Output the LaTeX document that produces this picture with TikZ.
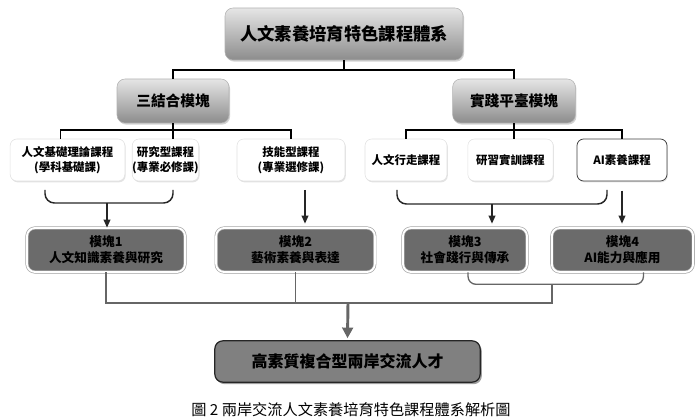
\documentclass[tikz,border=0pt]{standalone}
\usepackage{fontspec}
\setmainfont{Noto Sans CJK TC}
\usetikzlibrary{arrows.meta,shadows,calc}

\tikzset{every picture/.style={line width=0.75pt}}
\tikzset{
  headbox/.style={rounded corners=6pt,top color=black!10,bottom color=black!45,draw=black!30,line width=0.4pt,
    drop shadow={shadow xshift=0.8pt,shadow yshift=-1.2pt,fill=black!35},inner sep=0pt,align=center,font=\bfseries},
  coursebox/.style={rounded corners=5pt,fill=white,draw=black!12,line width=0.4pt,
    drop shadow={shadow xshift=0.6pt,shadow yshift=-1pt,fill=black!22},minimum height=31.5pt,inner sep=0pt,align=center,
    font=\fontsize{8.6}{11}\selectfont\bfseries},
  aibox/.style={coursebox,draw=black!75,line width=0.6pt},
  modbox/.style={rounded corners=6pt,fill=black!58,draw=black!35,double=white,double distance=1.4pt,line width=0.5pt,
    drop shadow={shadow xshift=0.6pt,shadow yshift=-1pt,fill=black!30},minimum height=33pt,inner sep=0pt,align=center,
    font=\fontsize{9.5}{12}\selectfont\bfseries},
  talentbox/.style={rounded corners=6pt,fill=black!50,draw=black!85,line width=0.9pt,
    drop shadow={shadow xshift=1.2pt,shadow yshift=-1.5pt,fill=black!75},inner sep=0pt,align=center,
    font=\fontsize{12}{14}\selectfont\bfseries},
  tree/.style={draw=black,line width=1.4pt},
  brace/.style={draw=black!85,line width=1.1pt,rounded corners=7pt},
  arr/.style={draw=black!85,line width=1.1pt,-{Triangle[length=6pt,width=5pt]}},
  flow/.style={draw=black!60,line width=1pt},
  bigarr/.style={draw=black!60,line width=2.2pt,-{Triangle[length=8pt,width=8pt]}}
}

\begin{document}
\begin{tikzpicture}[x=0.75pt,y=0.75pt,yscale=-1,xscale=1]
\useasboundingbox (0,0) rectangle (700,420);

%Shape: top box
\node (top) at (344,34) [headbox,minimum width=178.5pt,minimum height=39pt,font=\fontsize{13}{15}\selectfont\bfseries] {人文素養培育特色課程體系};
%Shape: two module groups
\node (sanjie) at (173,101) [headbox,minimum width=84pt,minimum height=33pt,font=\fontsize{11}{13}\selectfont\bfseries] {三結合模塊};
\node (shijian) at (514,101) [headbox,minimum width=92pt,minimum height=33pt,font=\fontsize{11}{13}\selectfont\bfseries] {實踐平臺模塊};

%Shape: course boxes
\node (c1) at (67.5,160) [coursebox,minimum width=86pt] {人文基礎理論課程\\(學科基礎課)};
\node (c2) at (165.5,160) [coursebox,minimum width=49pt] {研究型課程\\(專業必修課)};
\node (c3) at (291,160) [coursebox,minimum width=81pt] {技能型課程\\(專業選修課)};
\node (c4) at (406,160) [coursebox,minimum width=61.5pt] {人文行走課程};
\node (c5) at (510.5,160) [coursebox,minimum width=64pt] {研習實訓課程};
\node (c6) at (622,160) [aibox,minimum width=67.5pt] {AI素養課程};

%Shape: module boxes
\node (m1) at (106,250) [modbox,minimum width=118.5pt] {模塊1\\人文知識素養與研究};
\node (m2) at (295.5,250) [modbox,minimum width=119pt] {模塊2\\藝術素養與表達};
\node (m3) at (465,250) [modbox,minimum width=93pt] {模塊3\\社會踐行與傳承};
\node (m4) at (622.5,250) [modbox,minimum width=106pt] {模塊4\\AI能力與應用};

%Shape: result box
\node (talent) at (347.5,361.5) [talentbox,minimum width=199pt,minimum height=31pt] {高素質複合型兩岸交流人才};

% Text Node
\node (caption) at (351,410) [font=\fontsize{11.4}{13}\selectfont] {圖 2 兩岸交流人文素養培育特色課程體系解析圖};

%Straight Lines: tree on top
\draw[tree] (top.south) -- ++(0,10) -| (sanjie.north);
\draw[tree] (top.south) ++(0,10) -| (shijian.north);
\draw[tree] ($(c1.north)+(-7,0)$) -- ++(0,-9) -| (c3.north);
\draw[tree] (sanjie.south) -- (sanjie.south |- c2.north);
\draw[tree] (c4.north) -- ++(0,-9) -| (c6.north);
\draw[tree] (shijian.south) -- (shijian.south |- c5.north);

%Brackets and arrows to modules
\coordinate (b1l) at (45,190);
\coordinate (b1r) at (173,190);
\coordinate (b1m) at (107,203);
\draw[brace] (b1l) -- ++(0,13) -| (b1r);
\draw[arr] (b1m) -- (b1m |- m1.north);
\coordinate (a2) at (305,190);
\draw[arr] (a2) -- ($(a2 |- m2.north)+(0,-4)$);
\coordinate (b2l) at (397,190);
\coordinate (b2r) at (607,190);
\coordinate (b2m) at (492,204);
\draw[brace] (b2l) -- ++(0,14) -| (b2r);
\draw[arr] (b2m) -- ($(b2m |- m3.north)+(0,-4)$);
\draw[arr,shorten <=7pt] (c6.south) -- ($(c6.south |- m4.north)+(0,-4)$);

%Straight Lines: modules to result
\coordinate (join) at (348,303);
\coordinate (b3m) at (552,285);
\draw[flow,rounded corners=6pt] ($(m3.south)+(3,0)$) -- ++(0,12) -| ($(m4.south)+(21,0)$);
\draw[flow] (m1.south) |- (b3m |- join) -- (b3m);
\draw[flow] (m2.south) -- (m2.south |- join);
\draw[bigarr] (join) -- ($(talent.north)+(0,-2)$);

\end{tikzpicture}
\end{document}
